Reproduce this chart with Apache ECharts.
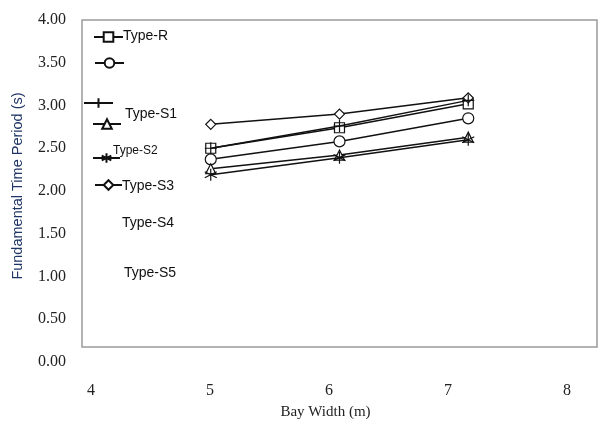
<!DOCTYPE html>
<html>
<head>
<meta charset="utf-8">
<script src="https://cdn.jsdelivr.net/npm/echarts@6/dist/echarts.min.js"></script>
<style>
  html, body { margin: 0; padding: 0; background: #fff; }
  #chart { width: 613px; height: 426px; }
</style>
</head>
<body>
<div id="chart"></div>
<script>
// Bay widths (m) and fundamental periods (s) for each frame type
const bayWidths = [5, 6, 7];
const typeR  = [2.50, 2.74, 3.02];
const typeS1 = [2.37, 2.58, 2.85];
const typeS2 = [2.50, 2.76, 3.06];
const typeS3 = [2.26, 2.42, 2.63];
const typeS4 = [2.19, 2.39, 2.60];
const typeS5 = [2.78, 2.90, 3.09];

const xTicks = [4, 5, 6, 7, 8];
const yTicks = [0, 0.5, 1, 1.5, 2, 2.5, 3, 3.5, 4];

const seriesNames = ['Type-R', 'Type-S1', 'Type-S2', 'Type-S3', 'Type-S4', 'Type-S5'];
const seriesValues = [typeR, typeS1, typeS2, typeS3, typeS4, typeS5];

// Legend captions as printed beside the key
const legendCaptions = ['Type-R', 'Type-S1', 'Type-S2', 'Type-S3', 'Type-S4', 'Type-S5'];

// Marker shapes
const plusPath = 'path://M5,0L5,10M0,5L10,5';
const starPath = 'path://M5,0L5,10M0.67,2.5L9.33,7.5M0.67,7.5L9.33,2.5';
const symbols = ['rect', 'circle', plusPath, 'triangle', starPath, 'diamond'];
const symbolSizes = [10, 11, 12, 10, 12, 10];

// Key layout: icon placement and caption placement
const keyIcons = [
  { left: 93, top: 31, w: 29 },
  { left: 94, top: 57, w: 29 },
  { left: 83, top: 97, w: 29 },
  { left: 92, top: 118, w: 28 },
  { left: 92, top: 152, w: 27 },
  { left: 94, top: 179, w: 27 }
];
const captionPos = [
  { x: 123, y: 38, size: 14 },
  { x: 125, y: 116, size: 14 },
  { x: 113, y: 152, size: 12 },
  { x: 122, y: 188, size: 14 },
  { x: 122, y: 225, size: 14 },
  { x: 124, y: 275, size: 14 }
];

const pairs = (vals) => bayWidths.map((x, i) => [x, vals[i]]);

const series = seriesNames.map((name, i) => ({
  name: name,
  type: 'line',
  xAxisIndex: 1,
  yAxisIndex: 1,
  data: pairs(seriesValues[i]),
  symbol: symbols[i],
  symbolSize: symbolSizes[i],
  showAllSymbol: true,
  lineStyle: { color: '#111', width: 1.5 },
  itemStyle: { color: '#fff', borderColor: '#111', borderWidth: 1.2 },
  emphasis: { disabled: true },
  z: 2 + i
}));
// plus markers sit above the square ones
series[2].z = 20;

const legends = seriesNames.map((name, i) => ({
  data: [name],
  left: keyIcons[i].left,
  top: keyIcons[i].top,
  itemWidth: keyIcons[i].w,
  itemHeight: 12,
  padding: 0,
  selectedMode: false,
  formatter: () => '',
  textStyle: { fontSize: 1 }
}));

const captions = legendCaptions.map((t, i) => ({
  type: 'text',
  left: captionPos[i].x,
  top: captionPos[i].y - captionPos[i].size * 0.6,
  style: {
    text: t,
    fill: '#111',
    font: captionPos[i].size + 'px "Liberation Sans", Arial, sans-serif'
  }
}));

const serif = '"Liberation Serif", "Times New Roman", serif';

const option = {
  animation: false,
  backgroundColor: '#fff',
  grid: [
    // plot frame
    { left: 82, top: 20, right: 16, height: 327, show: true,
      borderColor: '#9a9a9a', borderWidth: 1.5, backgroundColor: 'transparent' },
    // value scale
    { left: 82, top: 20, right: 16, height: 342, show: false }
  ],
  xAxis: [
    { gridIndex: 0, type: 'value', min: 4, max: 8, show: false },
    { gridIndex: 1, type: 'value', min: 4, max: 8, show: false },
    {
      gridIndex: 1, type: 'value', position: 'bottom', offset: 0,
      min: 3.924, max: 8.252,
      axisLine: { show: false }, axisTick: { show: false }, splitLine: { show: false },
      axisLabel: {
        customValues: xTicks, margin: 21,
        fontFamily: serif, fontSize: 16, color: '#222'
      },
      name: 'Bay Width (m)', nameLocation: 'middle', nameGap: 43,
      nameTextStyle: { fontFamily: serif, fontSize: 15, color: '#222', padding: [0, 28, 0, 0] }
    }
  ],
  yAxis: [
    { gridIndex: 0, type: 'value', min: 0, max: 1, show: false },
    {
      gridIndex: 1, type: 'value', min: 0, max: 4, interval: 0.5,
      axisLine: { show: false }, axisTick: { show: false }, splitLine: { show: false },
      axisLabel: {
        customValues: yTicks,
        formatter: (v) => v.toFixed(2), margin: 16,
        fontFamily: serif, fontSize: 16, color: '#222'
      },
      name: 'Fundamental Time Period (s)', nameLocation: 'middle', nameGap: 57,
      nameTextStyle: {
        fontFamily: '"Liberation Sans", Arial, sans-serif', fontSize: 14.5,
        color: '#1f3566', padding: [0, 0, 0, 10]
      }
    }
  ],
  legend: legends,
  graphic: captions,
  series: series
};

const chart = echarts.init(document.getElementById('chart'), null, { renderer: 'canvas' });
chart.setOption(option);
</script>
</body>
</html>
